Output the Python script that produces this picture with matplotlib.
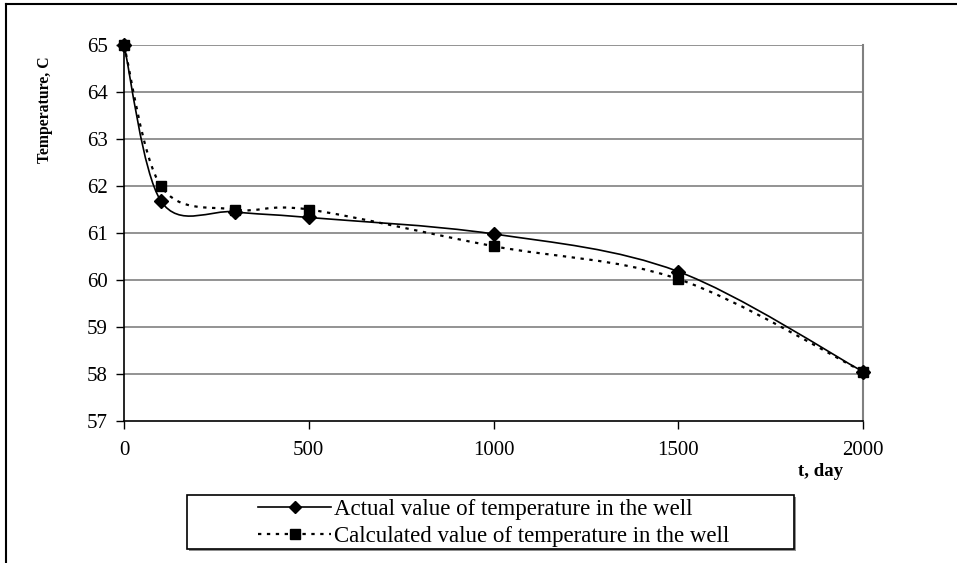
import numpy as np
import matplotlib
matplotlib.use("Agg")
import matplotlib.pyplot as plt
from matplotlib.path import Path
from matplotlib.patches import PathPatch, Rectangle
from matplotlib.lines import Line2D

# -------------------------------------------------
# Data
# -------------------------------------------------
days = [0, 100, 300, 500, 1000, 1500, 2000]
actual_temp = [65.0, 61.68, 61.45, 61.33, 60.98, 60.18, 58.05]
calc_temp = [65.0, 62.0, 61.5, 61.5, 60.72, 60.02, 58.05]

x_ticks = [0, 500, 1000, 1500, 2000]
y_ticks = [57, 58, 59, 60, 61, 62, 63, 64, 65]

LABEL_ACTUAL = "Actual value of temperature in the well"
LABEL_CALC = "Calculated value of temperature in the well"

plt.rcParams["font.family"] = ["Liberation Serif", "DejaVu Serif"]

GRID = "#808080"


def smooth_path(xs, ys, sx, sy):
    # spreadsheet style smoothed line: cubic bezier through each point,
    # control points from neighbours (computed in pixel-like space)
    px = np.asarray(xs, float) * sx
    py = np.asarray(ys, float) * sy
    n = len(px)
    verts = [(px[0], py[0])]
    codes = [Path.MOVETO]
    for i in range(n - 1):
        p0 = (px[max(i - 1, 0)], py[max(i - 1, 0)])
        p1 = (px[i], py[i])
        p2 = (px[i + 1], py[i + 1])
        p3 = (px[min(i + 2, n - 1)], py[min(i + 2, n - 1)])
        c1 = (p1[0] + (p2[0] - p0[0]) / 6, p1[1] + (p2[1] - p0[1]) / 6)
        c2 = (p2[0] - (p3[0] - p1[0]) / 6, p2[1] - (p3[1] - p1[1]) / 6)
        verts += [c1, c2, p2]
        codes += [Path.CURVE4] * 3
    verts = [(vx / sx, vy / sy) for vx, vy in verts]
    return Path(verts, codes)


# -------------------------------------------------
# Figure + layout
# -------------------------------------------------
DPI = 100
W, H = 957, 563
fig = plt.figure(figsize=(W / DPI, H / DPI), dpi=DPI)
fig.patch.set_facecolor("white")

ax = fig.add_axes([124 / W, 1 - 421 / H, (863 - 124) / W, (421 - 45) / H])
ax.set_xlim(0, 2000)
ax.set_ylim(57, 65)

# pixel scale of the axes, used for the curve smoothing
sx = (863 - 124) / 2000
sy = (421 - 45) / 8

for yv in y_ticks[1:]:
    ax.axhline(yv, color=GRID, lw=1.2, zorder=1)

ax.spines["top"].set_visible(False)
ax.spines["right"].set_color(GRID)
ax.spines["right"].set_linewidth(1.5)
ax.spines["left"].set_color("black")
ax.spines["bottom"].set_color("black")
ax.spines["left"].set_linewidth(1.2)
ax.spines["bottom"].set_linewidth(1.2)

# -------------------------------------------------
# Curves
# -------------------------------------------------
ax.add_patch(PathPatch(smooth_path(days, actual_temp, sx, sy), fill=False,
                       edgecolor="black", lw=1.2, zorder=3))
ax.add_patch(PathPatch(smooth_path(days, calc_temp, sx, sy), fill=False,
                       edgecolor="black", lw=1.6, linestyle=(0, (1.5, 2.5)),
                       zorder=3))

ax.plot(days, actual_temp, linestyle="none", marker="D", markersize=7.2,
        color="black", zorder=4, clip_on=False)
ax.plot(days, calc_temp, linestyle="none", marker="s", markersize=7.8,
        color="black", zorder=4, clip_on=False)

# -------------------------------------------------
# Ticks & labels
# -------------------------------------------------
ax.set_xticks(x_ticks)
ax.set_yticks(y_ticks)
ax.tick_params(axis="both", direction="out", length=5.5, width=1,
               labelsize=15, color="black")
ax.tick_params(axis="y", pad=6)
ax.tick_params(axis="x", pad=9)

fig.text(45 / W, 1 - 110 / H, "Temperature, C", rotation=90,
         ha="center", va="center", fontsize=11.3, fontweight="bold")
fig.text(843 / W, 1 - 472 / H, "t, day", ha="right", va="center",
         fontsize=13.5, fontweight="bold")

# -------------------------------------------------
# Legend (box drawn separately, with grey shadow)
# -------------------------------------------------
lx0, lx1, ly0, ly1 = 187, 794, 495, 549
fig.add_artist(Rectangle((lx0 / W + 2 / W, 1 - ly1 / H - 2 / H),
                         (lx1 - lx0) / W, (ly1 - ly0) / H,
                         transform=fig.transFigure, facecolor="#909090",
                         edgecolor="none", zorder=5))
fig.add_artist(Rectangle((lx0 / W, 1 - ly1 / H),
                         (lx1 - lx0) / W, (ly1 - ly0) / H,
                         transform=fig.transFigure, facecolor="white",
                         edgecolor="black", lw=1.2, zorder=6))

handles = [
    Line2D([], [], color="black", lw=1.2, marker="D", markersize=6.5),
    Line2D([], [], color="black", lw=1.6, linestyle=(0, (1.5, 2.5)),
           marker="s", markersize=7),
]
leg = fig.legend(handles, [LABEL_ACTUAL, LABEL_CALC],
                 loc="center left", bbox_to_anchor=(258 / W,
                                                    1 - 523 / H),
                 frameon=False, fontsize=16.5, handlelength=3.2,
                 handletextpad=0.1, labelspacing=0.3, borderaxespad=0,
                 borderpad=0)
leg.set_zorder(7)

# outer chart border
fig.add_artist(Line2D([6 / W, 6 / W], [0, 1 - 4 / H],
                      transform=fig.transFigure, color="black", lw=1.5))
fig.add_artist(Line2D([6 / W, 1], [1 - 4 / H, 1 - 4 / H],
                      transform=fig.transFigure, color="black", lw=1.5))

# -------------------------------------------------
# Save
# -------------------------------------------------
fig.savefig("out.png", dpi=DPI, facecolor=fig.get_facecolor())
